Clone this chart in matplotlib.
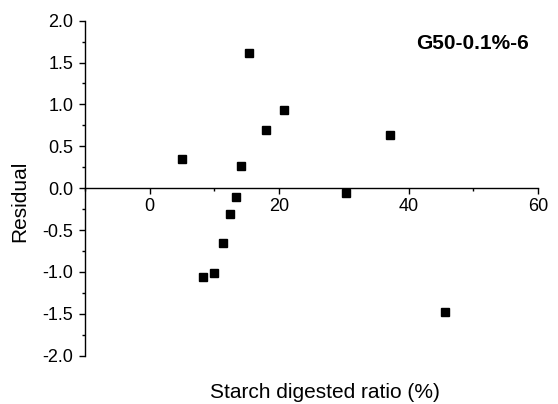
import matplotlib
matplotlib.use("Agg")
import matplotlib.pyplot as plt
from matplotlib.ticker import MultipleLocator

# residuals vs starch digested ratio
starch_ratio = [5.0, 8.3, 10.0, 11.3, 12.4, 13.4, 14.1, 15.3, 18.0, 20.8, 30.4, 37.2, 45.7]
residual = [0.35, -1.06, -1.01, -0.66, -0.31, -0.10, 0.27, 1.62, 0.69, 0.93, -0.06, 0.64, -1.48]

x_ticks = [0, 20, 40, 60]
y_ticks = [2.0, 1.5, 1.0, 0.5, 0.0, -0.5, -1.0, -1.5, -2.0]

plt.rcParams['font.family'] = ['Liberation Sans', 'DejaVu Sans']

fig = plt.figure(figsize=(5.58, 4.04), dpi=100)
ax = fig.add_axes([0.1523, 0.1196, 0.8119, 0.8292])

ax.plot(starch_ratio, residual, 's', color='black', markersize=5.6, linestyle='none')

ax.set_xlim(-10, 60)
ax.set_ylim(-2.0, 2.0)

# Origin-like axes: y axis at left, x axis crossing at zero
ax.spines['top'].set_visible(False)
ax.spines['right'].set_visible(False)
ax.spines['bottom'].set_position(('data', 0))
for sp in ('left', 'bottom'):
    ax.spines[sp].set_linewidth(1.0)

ax.set_xticks(x_ticks)
ax.set_yticks(y_ticks)
ax.set_yticklabels([f"{v:.1f}" for v in y_ticks])
ax.xaxis.set_minor_locator(MultipleLocator(10))
ax.yaxis.set_minor_locator(MultipleLocator(0.25))
ax.tick_params(which='major', direction='out', length=4.3, width=1.0, labelsize=13)
ax.tick_params(which='minor', direction='out', length=2.2, width=1.0)
ax.tick_params(axis='x', which='major', pad=3)
ax.tick_params(axis='y', which='major', pad=4)

ax.set_xlabel("Starch digested ratio (%)", fontsize=15, va='baseline')
ax.xaxis.set_label_coords(0.530, -0.1263)
ax.set_ylabel("Residual", fontsize=15, va='center')
ax.yaxis.set_label_coords(-0.144, 0.4596)

ax.text(0.980, 0.9155, "G50-0.1%-6", transform=ax.transAxes, ha='right', va='baseline',
        fontsize=15, fontweight='bold')

fig.savefig("out.png", dpi=100)
